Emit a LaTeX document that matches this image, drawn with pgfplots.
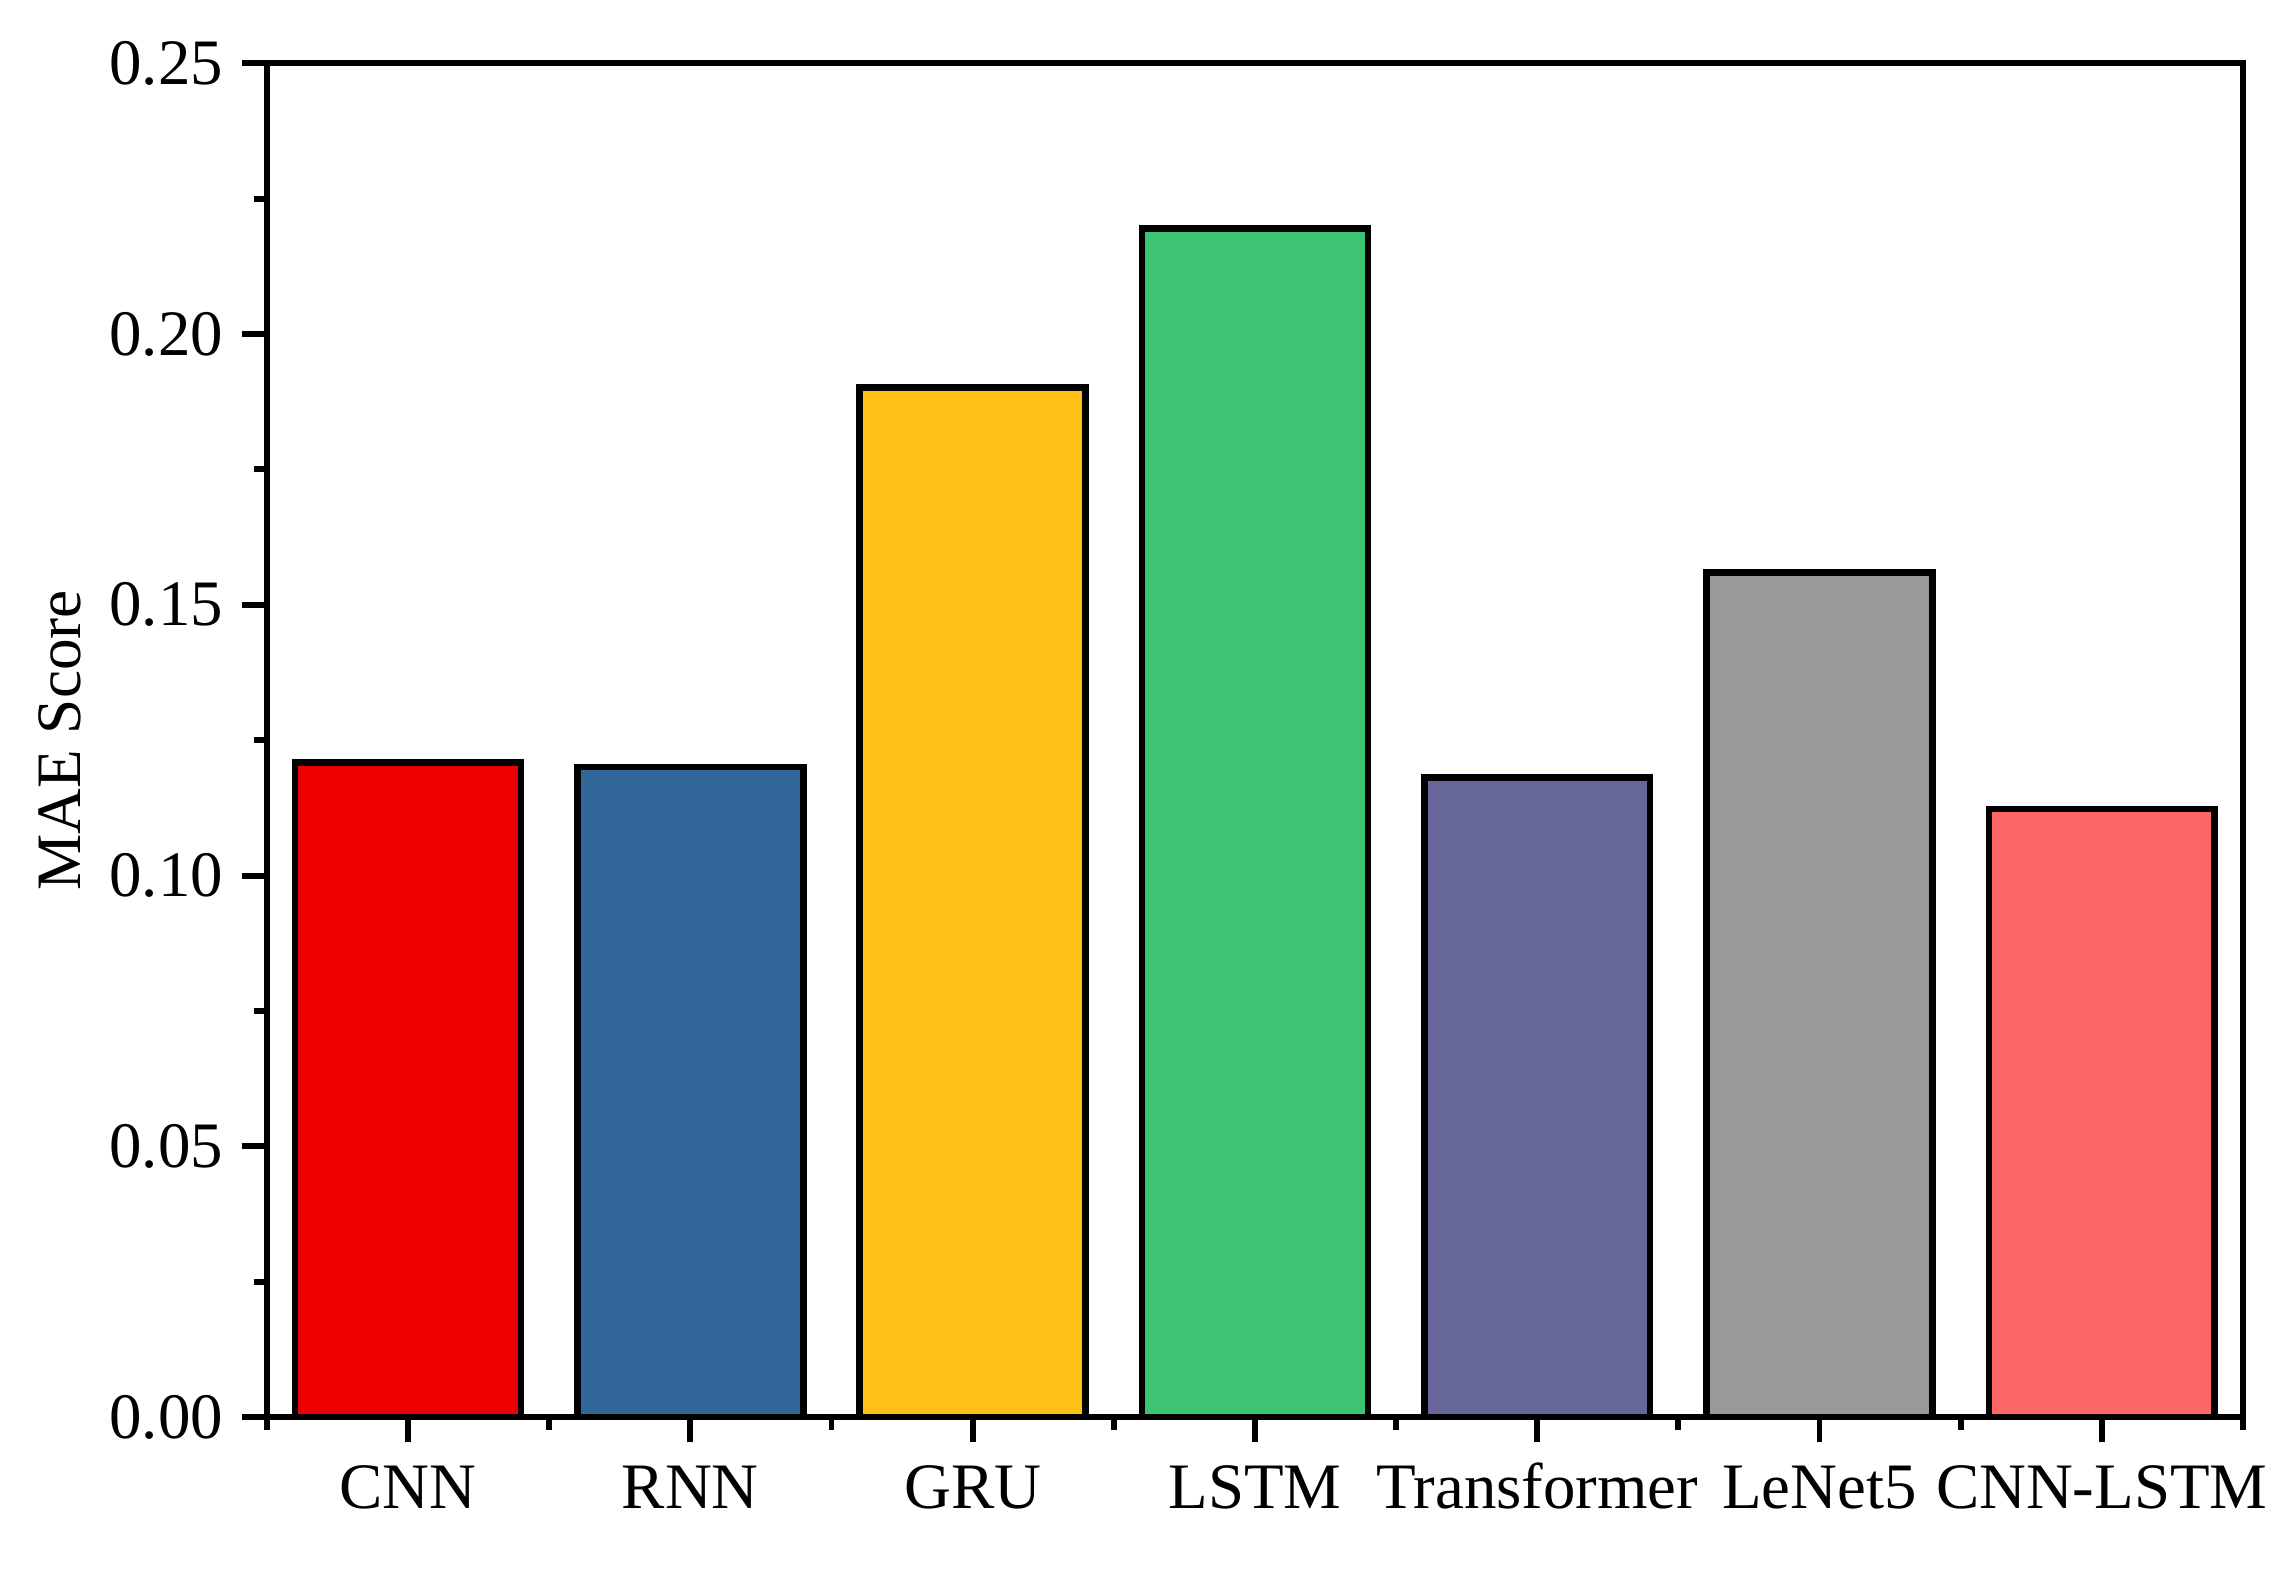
\documentclass[border=0pt]{standalone}
\usepackage{pgfplots}
\pgfplotsset{compat=1.18}
\usepackage{fontspec}
\setmainfont{Liberation Serif}
\definecolor{cA}{HTML}{EE0000}
\definecolor{cB}{HTML}{336699}
\definecolor{cC}{HTML}{FDC116}
\definecolor{cD}{HTML}{3CC473}
\definecolor{cE}{HTML}{666699}
\definecolor{cF}{HTML}{999999}
\definecolor{cG}{HTML}{FF6666}
\begin{document}
\begin{tikzpicture}
\begin{axis}[
  scale only axis,
  width=365.7pt, height=250.6pt,
  xmin=-0.5, xmax=6.5,
  ymin=0, ymax=0.25,
  ybar, bar width=0.8, bar shift=0pt,
  axis line style={line width=1.1pt},
  tick style={line width=1.1pt, black},
  major tick length=4.6pt,
  minor tick length=2.3pt,
  tick align=outside,
  tick pos=left,
  xtick={0,1,2,3,4,5,6},
  xticklabels={CNN,RNN,GRU,LSTM,Transformer,LeNet5,CNN-LSTM},
  minor xtick={-0.5,0.5,1.5,2.5,3.5,4.5,5.5,6.5},
  ytick={0,0.05,0.10,0.15,0.20,0.25},
  minor ytick={0.025,0.075,0.125,0.175,0.225},
  /pgf/number format/assume math mode=true,
  yticklabel style={/pgf/number format/fixed, /pgf/number format/fixed zerofill, /pgf/number format/precision=2},
  xticklabel style={text height=8.5pt, text depth=2.5pt, yshift=-0.3pt},
  scaled y ticks=false,
  ticklabel style={font=\fontsize{12}{14}\selectfont},
  ylabel={MAE Score},
  ylabel style={font=\fontsize{11.7}{14}\selectfont, xshift=0pt, yshift=-1.6pt},
  every axis plot/.append style={draw=black, line width=1.2pt},
]
\addplot[fill=cA] coordinates {(0,0.1209)};
\addplot[fill=cB] coordinates {(1,0.1201)};
\addplot[fill=cC] coordinates {(2,0.1901)};
\addplot[fill=cD] coordinates {(3,0.2195)};
\addplot[fill=cE] coordinates {(4,0.1181)};
\addplot[fill=cF] coordinates {(5,0.1560)};
\addplot[fill=cG] coordinates {(6,0.1123)};
\end{axis}
\path ([xshift=-49.4pt,yshift=-28.1pt]current axis.south west) rectangle ([xshift=8.9pt,yshift=11.7pt]current axis.north east);
\end{tikzpicture}
\end{document}
